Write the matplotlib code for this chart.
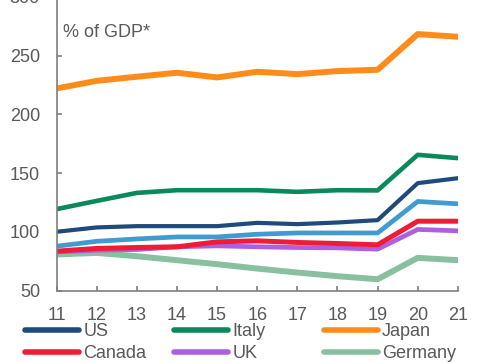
import matplotlib
matplotlib.use("Agg")
import matplotlib.pyplot as plt
from matplotlib.lines import Line2D

plt.rcParams['font.family'] = ['Liberation Sans', 'DejaVu Sans']

years = [11, 12, 13, 14, 15, 16, 17, 18, 19, 20, 21]
year_labels = ['11', '12', '13', '14', '15', '16', '17', '18', '19', '20', '21']

us = [100, 103.7, 104.8, 104.8, 104.8, 107.6, 106.5, 107.9, 109.9, 141.4, 145.6]
italy = [119.3, 126.3, 133.1, 135.4, 135.4, 135.4, 134.0, 135.4, 135.2, 165.5, 162.7]
japan = [222.0, 228.5, 232.0, 235.4, 231.4, 236.2, 234.2, 236.8, 237.9, 268.3, 266.0]
canada = [83.5, 85.8, 86.6, 87.2, 91.4, 92.3, 90.9, 90.0, 88.9, 109.0, 109.0]
uk = [82.9, 84.3, 84.9, 87.2, 88.0, 87.2, 86.6, 86.3, 85.2, 102.0, 100.8]
germany = [80.7, 82.0, 79.2, 75.8, 72.4, 68.7, 65.3, 62.2, 59.6, 77.8, 75.8]
france = [87.7, 91.9, 93.9, 95.6, 95.6, 97.9, 99.0, 99.0, 99.0, 125.8, 123.8]

y_ticks = [50, 100, 150, 200, 250, 300]

grey = '#595959'
fs = 13
fig = plt.figure(figsize=(4.84, 3.63), dpi=100)
ax = fig.add_axes([0.117, 0.1997, 0.829, 0.809])

series = [
    ('US', us, '#1f4a7c'),
    ('Italy', italy, '#0a8a5a'),
    ('Japan', japan, '#ff8c1a'),
    ('Canada', canada, '#ee1c34'),
    ('UK', uk, '#ae5fdf'),
    ('Germany', germany, '#88c0a0'),
]

# draw back-to-front so the thick lines sit under the thin ones
ax.plot(years, germany, color='#88c0a0', lw=4.3, solid_joinstyle='round')
ax.plot(years, uk, color='#ae5fdf', lw=3.4, solid_joinstyle='round')
ax.plot(years, canada, color='#ee1c34', lw=3.6, solid_joinstyle='round')
ax.plot(years, france, color='#3f9bd0', lw=3.4, solid_joinstyle='round')
ax.plot(years, us, color='#1f4a7c', lw=3.0, solid_joinstyle='round')
ax.plot(years, italy, color='#0a8a5a', lw=3.3, solid_joinstyle='round')
ax.plot(years, japan, color='#ff8c1a', lw=4.3, solid_joinstyle='round')

ax.set_xlim(11, 21)
ax.set_ylim(50, 300)
ax.set_xticks(years)
ax.set_xticklabels(year_labels)
ax.set_yticks(y_ticks)

for s in ['top', 'right']:
    ax.spines[s].set_visible(False)
for s in ['left', 'bottom']:
    ax.spines[s].set_color('#7f7f7f')
    ax.spines[s].set_linewidth(1.2)

ax.tick_params(axis='both', direction='in', length=3.5, width=1.2,
               color='#7f7f7f', labelcolor=grey, labelsize=fs)
ax.tick_params(axis='x', pad=12)
ax.tick_params(axis='y', pad=12)

ax.text(0.015, 0.88, '% of GDP*', transform=ax.transAxes, fontsize=fs,
        color=grey, va='center', ha='left')

# legend: three columns of two entries
col_x = [0.052, 0.36, 0.669]
for c in range(3):
    handles = []
    for name, vals, col in series[c::3]:
        handles.append(Line2D([], [], color=col, lw=4.0, solid_capstyle='round',
                              label=name))
    fig.legend(handles=handles, loc='upper left', bbox_to_anchor=(col_x[c], 0.109),
               frameon=False, fontsize=fs, labelcolor=grey, handlelength=3.0,
               handletextpad=0.22, labelspacing=0.25, borderpad=0, borderaxespad=0)

fig.savefig('out.png', dpi=100)
